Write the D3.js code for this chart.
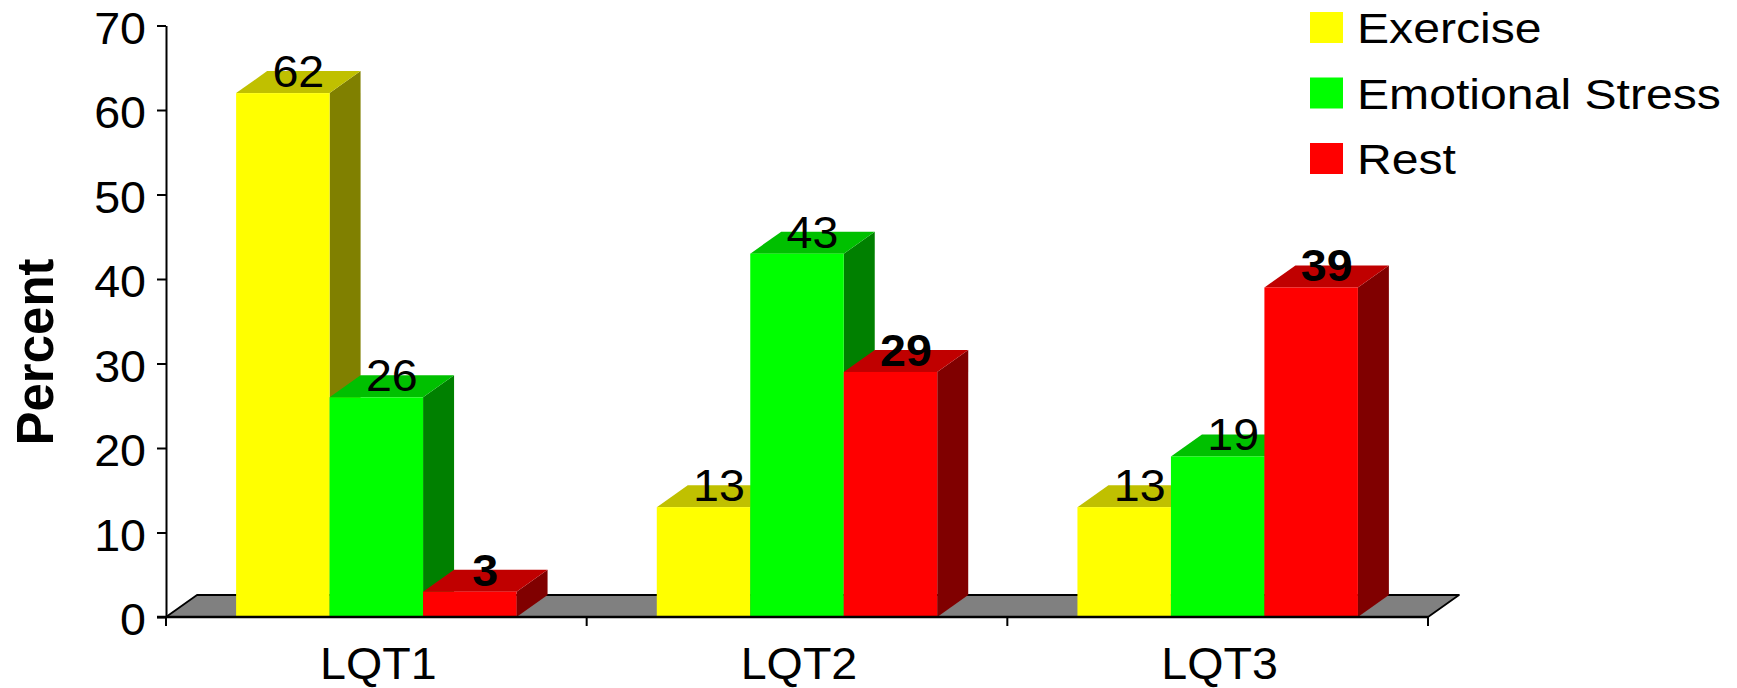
<!DOCTYPE html>
<html>
<head>
<meta charset="utf-8">
<script src="https://cdn.jsdelivr.net/npm/d3@7/dist/d3.min.js"></script>
<style>
  html, body { margin: 0; padding: 0; background: #ffffff; }
  svg { display: block; }
  text { font-family: "Liberation Sans", Arial, sans-serif; fill: #000; }
</style>
</head>
<body>
<svg id="chart" width="1737" height="688"></svg>
<script>
// Trigger circumstances of cardiac events by LQT genotype
const categories = ["LQT1", "LQT2", "LQT3"];
const seriesNames = ["Exercise", "Emotional Stress", "Rest"];
const exercise = [62, 13, 13];
const emotionalStress = [26, 43, 19];
const rest = [3, 29, 39];
const yTicks = [0, 10, 20, 30, 40, 50, 60, 70];
const boldLabelSeries = ["Rest"];

// Front, top and side shades for each series
const faceColors = {
  "Exercise":         { front: "#ffff00", top: "#c0c000", side: "#808000" },
  "Emotional Stress": { front: "#00ff00", top: "#00c000", side: "#008000" },
  "Rest":             { front: "#ff0000", top: "#c00000", side: "#800000" }
};

const seriesValues = [exercise, emotionalStress, rest];

const svg = d3.select("#chart");
const W = 1737, H = 688;
const margin = { left: 166, right: 309, top: 25.5, bottom: 71 };

const x = d3.scaleBand()
  .domain(categories)
  .range([margin.left, W - margin.right])
  .paddingInner(0).paddingOuter(0);

const y = d3.scaleLinear()
  .domain([0, 70])
  .range([H - margin.bottom, margin.top]);

// oblique depth of the 3-D columns and floor
const dx = 31, dy = 22;
const barW = x.bandwidth() / 4.5;
const barOffset = barW * 0.75;
const sx = 1.06; // horizontal text stretch

const y0 = y(0);
const xLeft = x.range()[0], xRight = x.range()[1];

// floor
svg.append("polygon")
  .attr("points", [
    [xLeft, y0], [xRight, y0], [xRight + dx, y0 - dy], [xLeft + dx, y0 - dy]
  ].map(p => p.join(",")).join(" "))
  .attr("fill", "#808080")
  .attr("stroke", "#000")
  .attr("stroke-width", 1.8)
  .attr("stroke-linejoin", "round");

// bars
const bars = [];
categories.forEach((cat, ci) => {
  seriesNames.forEach((s, si) => {
    const v = seriesValues[si][ci];
    const x0 = x(cat) + barOffset + si * barW;
    bars.push({ cat, s, v, x0, x1: x0 + barW });
  });
});

const barG = svg.append("g");
bars.forEach(b => {
  const c = faceColors[b.s];
  const yt = y(b.v);
  const g = barG.append("g");
  // side face
  g.append("polygon")
    .attr("points", [[b.x1, yt], [b.x1 + dx, yt - dy], [b.x1 + dx, y0 - dy], [b.x1, y0]]
      .map(p => p.join(",")).join(" "))
    .attr("fill", c.side);
  // top face
  g.append("polygon")
    .attr("points", [[b.x0, yt], [b.x0 + dx, yt - dy], [b.x1 + dx, yt - dy], [b.x1, yt]]
      .map(p => p.join(",")).join(" "))
    .attr("fill", c.top);
  // front face
  g.append("rect")
    .attr("x", b.x0).attr("y", yt)
    .attr("width", barW).attr("height", y0 - yt)
    .attr("fill", c.front);
});

// y axis
const yAxis = svg.append("g")
  .attr("transform", `translate(${xLeft},0)`)
  .call(d3.axisLeft(y).tickValues(yTicks).tickSize(9).tickSizeOuter(0).tickFormat(d3.format("d")));
yAxis.select(".domain").attr("stroke", "#000").attr("stroke-width", 2);
yAxis.selectAll(".tick line").attr("stroke", "#000").attr("stroke-width", 2);
yAxis.selectAll(".tick text")
  .attr("x", null).attr("dy", null)
  .attr("transform", `translate(-20,17.5) scale(${sx},1)`)
  .attr("text-anchor", "end")
  .style("font-size", "44px")
  .style("font-family", "'Liberation Sans', Arial, sans-serif")
  .attr("fill", "#000");

// x axis: baseline, category boundary ticks and centred labels
const xAxis = svg.append("g")
  .attr("transform", `translate(0,${y0})`)
  .call(d3.axisBottom(x).tickSize(0).tickSizeOuter(0).tickPadding(0));
xAxis.select(".domain").remove();
xAxis.selectAll(".tick text")
  .attr("y", null).attr("dy", null)
  .attr("transform", `translate(2,62) scale(${sx},1)`)
  .attr("text-anchor", "middle")
  .style("font-size", "44px")
  .style("font-family", "'Liberation Sans', Arial, sans-serif")
  .attr("fill", "#000");

svg.append("line")
  .attr("x1", xLeft - 9).attr("x2", xRight)
  .attr("y1", y0).attr("y2", y0)
  .attr("stroke", "#000").attr("stroke-width", 2.5);

const boundaries = categories.map(c => x(c)).concat([xRight]);
svg.append("g").selectAll("line")
  .data(boundaries)
  .join("line")
  .attr("x1", d => d).attr("x2", d => d)
  .attr("y1", y0).attr("y2", y0 + 9)
  .attr("stroke", "#000").attr("stroke-width", 2);

// value labels above each column's top face
svg.append("g").selectAll("text")
  .data(bars)
  .join("text")
  .attr("transform", d => `translate(${(d.x0 + d.x1) / 2 + dx / 2},${y(d.v) - 6}) scale(${sx},1)`)
  .attr("text-anchor", "middle")
  .style("font-size", "44px")
  .style("font-weight", d => boldLabelSeries.includes(d.s) ? "bold" : "normal")
  .text(d => d.v);

// y axis title
svg.append("text")
  .attr("transform", "translate(53,352) rotate(-90)")
  .attr("text-anchor", "middle")
  .style("font-size", "51px")
  .style("font-weight", "bold")
  .text("Percent");

// legend
const legend = svg.append("g").attr("transform", "translate(1310,12)");
const lg = legend.selectAll("g")
  .data(seriesNames)
  .join("g")
  .attr("transform", (d, i) => `translate(0,${i * 65.5})`);
lg.append("rect")
  .attr("width", 33).attr("height", 31)
  .attr("fill", d => faceColors[d].front);
lg.append("text")
  .attr("transform", "translate(47,31) scale(1.12,1)")
  .style("font-size", "43px")
  .text(d => d);
</script>
</body>
</html>
